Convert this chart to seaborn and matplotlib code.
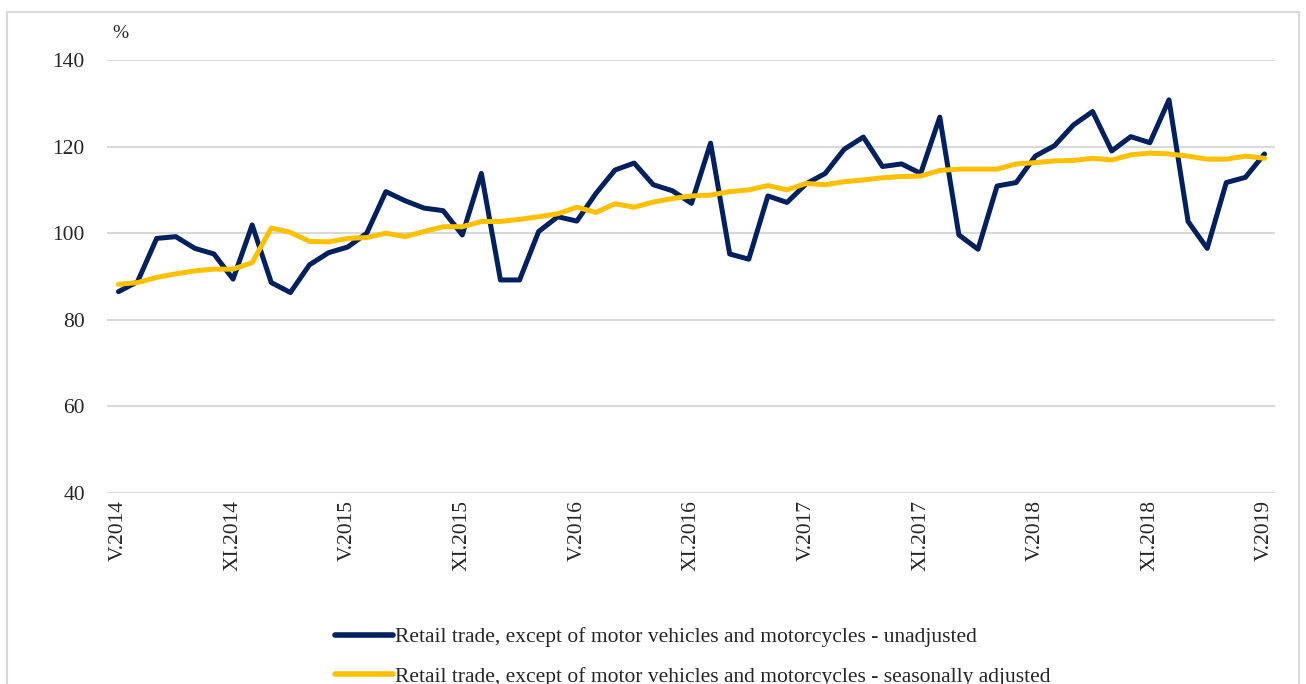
import numpy as np
import pandas as pd
import seaborn as sns
import matplotlib
matplotlib.use('Agg')
from matplotlib import pyplot as plt
from matplotlib.patches import Rectangle

# monthly values, V.2014 .. V.2019
unadjusted = [86.5, 88.8, 98.8, 99.2, 96.5, 95.2, 89.4, 101.9, 88.6, 86.3,
              92.7, 95.5, 96.8, 100.0, 109.6, 107.5, 105.8, 105.2, 99.6, 113.8,
              89.2, 89.2, 100.4, 103.8, 102.8, 109.2, 114.6, 116.2, 111.2, 109.8,
              106.9, 120.8, 95.2, 94.0, 108.6, 107.1, 111.4, 113.8, 119.4, 122.2,
              115.4, 116.0, 113.8, 126.8, 99.6, 96.3, 110.9, 111.7, 117.8, 120.2,
              125.0, 128.1, 119.0, 122.3, 120.9, 130.8, 102.7, 96.5, 111.7, 112.9,
              118.3]
adjusted = [88.2, 88.6, 89.8, 90.6, 91.3, 91.7, 91.7, 93.2, 101.2, 100.2,
            98.1, 98.0, 98.8, 99.0, 100.0, 99.2, 100.4, 101.5, 101.5, 102.7,
            102.7, 103.2, 103.8, 104.5, 106.0, 104.8, 106.8, 106.0, 107.2, 108.0,
            108.6, 108.8, 109.6, 110.0, 111.0, 110.0, 111.5, 111.2, 111.9, 112.3,
            112.8, 113.1, 113.2, 114.5, 114.8, 114.8, 114.8, 116.0, 116.3, 116.7,
            116.8, 117.3, 116.9, 118.1, 118.5, 118.3, 117.8, 117.1, 117.1, 117.8,
            117.3]
roman = ['I', 'II', 'III', 'IV', 'V', 'VI', 'VII', 'VIII', 'IX', 'X', 'XI', 'XII']
months = [roman[(4 + i) % 12] + '.' + str(2014 + (4 + i) // 12) for i in range(61)]
series_names = ['Retail trade, except of motor vehicles and motorcycles - unadjusted',
                'Retail trade, except of motor vehicles and motorcycles - seasonally adjusted']

df = pd.DataFrame({'idx': list(range(61)) * 2,
                   'value': unadjusted + adjusted,
                   'series': [series_names[0]] * 61 + [series_names[1]] * 61})

sns.set_style('white')
plt.rcParams['font.family'] = ['Liberation Serif', 'DejaVu Serif']

fig = plt.figure(figsize=(13.06, 6.84), dpi=100)
ax = fig.add_axes([107 / 1306, 1 - 493 / 684, (1275 - 107) / 1306, (493 - 60) / 684])

sns.lineplot(data=df, x='idx', y='value', hue='series', palette=['#002060', '#FFC000'],
             linewidth=3.6, ax=ax, legend=False)

ax.set_ylim(40, 140)
ax.set_xlim(-0.6, 60.55)
ax.set_yticks([40, 60, 80, 100, 120, 140])
ax.set_xticks(range(0, 61, 6))
ax.set_xticklabels([months[i] for i in range(0, 61, 6)], rotation=90, fontsize=15.5)
ax.tick_params(axis='y', labelsize=15.5, length=0, pad=16)
ax.tick_params(axis='x', length=0, pad=5)
ax.set_xlabel('')
ax.set_ylabel('')
ax.yaxis.grid(True, color='#D9D9D9', linewidth=1.5)
ax.set_axisbelow(True)
for s in ax.spines.values():
    s.set_visible(False)

fig.text(112 / 1306, 1 - 34 / 684, '%', fontsize=14, va='center', ha='left')

# legend
handles = [plt.Line2D([], [], color=c, linewidth=4) for c in ['#002060', '#FFC000']]
fig.legend(handles, series_names, loc='upper left', bbox_to_anchor=(335 / 1306, 1 - 627 / 684),
           frameon=False, fontsize=15.5, handlelength=2.7, handletextpad=0.1,
           labelspacing=0.9, borderpad=0, borderaxespad=0)

# outer frame
fig.patches.append(Rectangle((7 / 1306, -0.05), 1292 / 1306, 1.05 - 12 / 684,
                             transform=fig.transFigure, fill=False,
                             edgecolor='#D9D9D9', linewidth=1.5))

fig.savefig('out.png', dpi=100)
